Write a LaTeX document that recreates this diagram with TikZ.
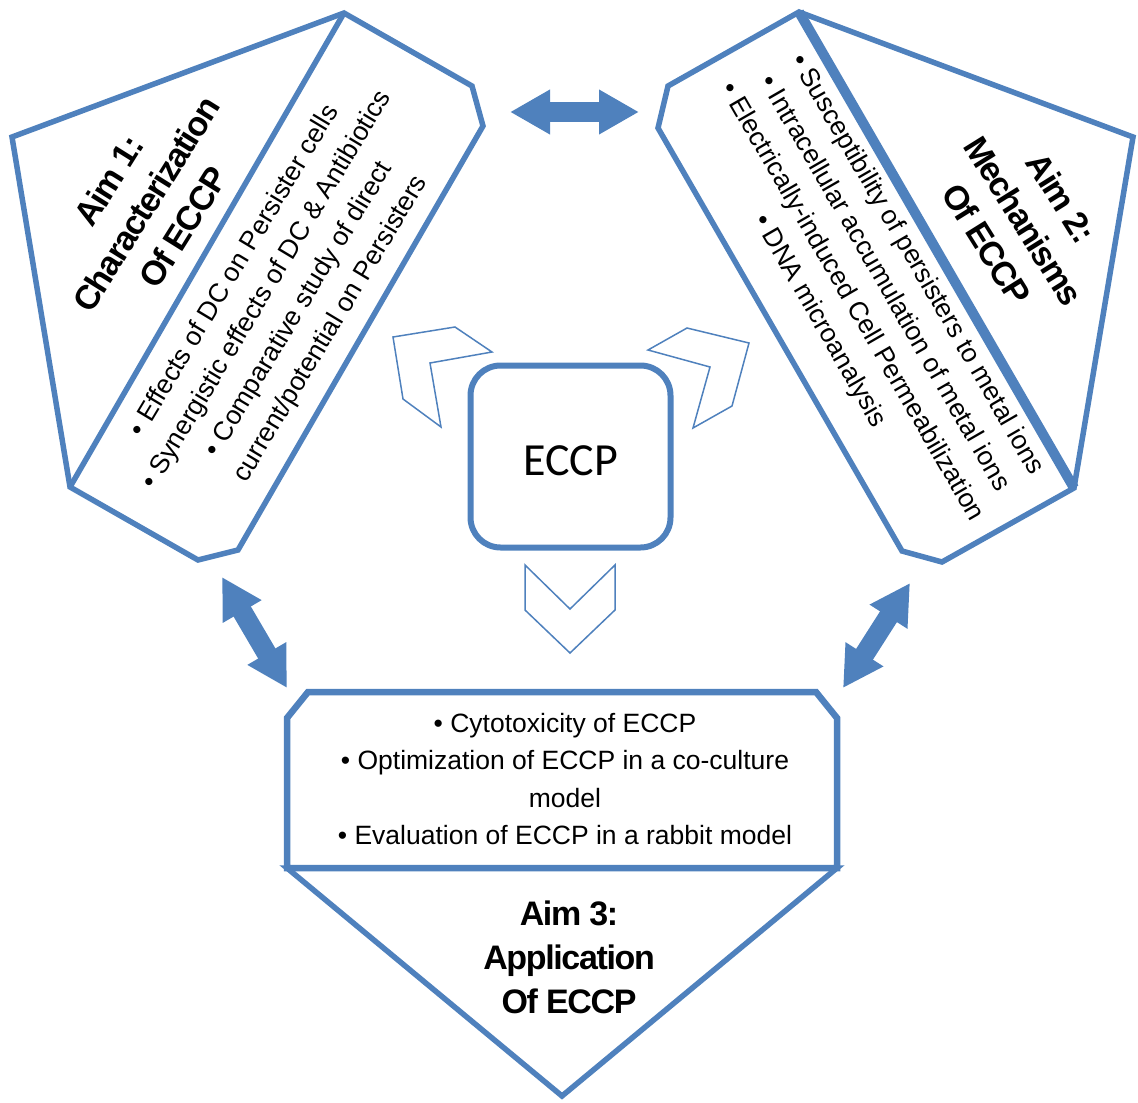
\documentclass[tikz,border=0pt]{standalone}
\usepackage{fontspec}
\setmainfont{Liberation Sans}
\newfontfamily\aimfont[LetterSpace=-4]{Liberation Sans}
\newfontfamily\eccpfont{Carlito}
\usetikzlibrary{arrows.meta}
\usetikzlibrary{calc}

\definecolor{aimblue}{RGB}{79,129,189}

\begin{document}
\begin{tikzpicture} [x=1pt, y=-1pt,
	panel/.style={draw=aimblue, line width=5.5pt, fill=white},
	chevron/.style={draw=aimblue, line width=1.5pt, fill=white},
	twoway/.style={draw=aimblue, line width=20pt,
		{Triangle[length=40pt, width=42pt]}-{Triangle[length=40pt, width=42pt]}},
	aimtitle/.style={align=center, font=\aimfont\bfseries\fontsize{34}{44}\selectfont},
	bulletlist/.style={align=center, font=\fontsize{26.5}{37.5}\selectfont}]

		\useasboundingbox (0,0) rectangle (1138,1103);

		% Aim 1 panel
		\coordinate (l1) at (344,13);
		\coordinate (l2) at (12,137);
		\coordinate (l3) at (70,487);
		\coordinate (l4) at (198,560);
		\coordinate (l5) at (238,550);
		\coordinate (l6) at (483,126);
		\coordinate (l7) at (472,86);

		\draw [panel] (l1) -- (l2) -- (l3) -- (l4) -- (l5) -- (l6) -- (l7) -- cycle;

		\draw [panel] (l1) -- (l3);

		\node[aimtitle, rotate=58] (aim1) at (146,204)%
		{Aim 1:\\ Characterization\\ Of ECCP};

		\node[bulletlist, rotate=59] (list1) at (283,300)%
		{• Effects of DC on Persister cells\\ • Synergistic effects of DC \& Antibiotics\\%
		• Comparative study of direct\\ current/potential on Persisters};

		% Aim 2 panel
		\coordinate (r1) at (799,12);
		\coordinate (r2) at (1133,137);
		\coordinate (r3) at (1074,488);
		\coordinate (r4) at (942,562);
		\coordinate (r5) at (902,551);
		\coordinate (r6) at (658,128);
		\coordinate (r7) at (668,86);

		\draw [panel] (r1) -- (r2) -- (r3) -- (r4) -- (r5) -- (r6) -- (r7) -- cycle;

		\draw [panel, line width=10pt] (r1) -- (r3);

		\node[aimtitle, rotate=-58] (aim2) at (1024,221)%
		{Aim 2:\\ Mechanisms\\ Of ECCP};

		\node[bulletlist, rotate=-60] (list2) at (868,293)%
		{• Susceptibility of persisters to metal ions\\ • Intracellular accumulation of metal ions\\%
		• Electrically-induced Cell Permeabilization\\ • DNA microanalysis};

		% Aim 3 panel
		\coordinate (b1) at (287,718);
		\coordinate (b2) at (308,692);
		\coordinate (b3) at (816,692);
		\coordinate (b4) at (837,718);
		\coordinate (b5) at (837,868);
		\coordinate (b6) at (287,868);
		\coordinate (b7) at (562,1096);

		\draw [panel] (b6) -- (b7) -- (b5) -- cycle;

		\draw [panel, line width=6.5pt] (b6) -- (b1) -- (b2) -- (b3) -- (b4) -- (b5) -- cycle;

		\node[bulletlist] (list3) at (565,779)%
		{• Cytotoxicity of ECCP\\ • Optimization of ECCP in a co-culture\\ model\\%
		• Evaluation of ECCP in a rabbit model};

		\node[aimtitle] (aim3) at (569,957)%
		{Aim 3:\\ Application\\ Of ECCP};

		% centre
		\node[draw=aimblue, line width=6pt, rounded corners=30pt, fill=white,
			minimum width=200pt, minimum height=182pt, text height=38pt, text depth=0pt,
			font=\eccpfont\fontsize{46}{50}\selectfont] (eccp) at (570.5,456.5) {ECCP};

		\draw [chevron] (393,337) -- (455,327) -- (492,352) -- (430,363) -- (441,427) -- (403,399) -- cycle;

		\draw [chevron] (749,343) -- (687,328) -- (648,350) -- (710,367) -- (693,428) -- (732,406) -- cycle;

		\draw [chevron] (525,565) -- (570,609) -- (615,565) -- (615,610) -- (570,653) -- (525,610) -- cycle;

		% two-way arrows
		\coordinate (t1) at (510,112);
		\coordinate (t2) at (639,112);
		\coordinate (p1) at (222,577);
		\coordinate (p2) at (287,688);
		\coordinate (q1) at (910,583);
		\coordinate (q2) at (843,688);

		\draw [twoway] (t1) -- (t2);

		\draw [twoway] (p1) -- (p2);

		\draw [twoway] (q1) -- (q2);
	\end{tikzpicture}
\end{document}
